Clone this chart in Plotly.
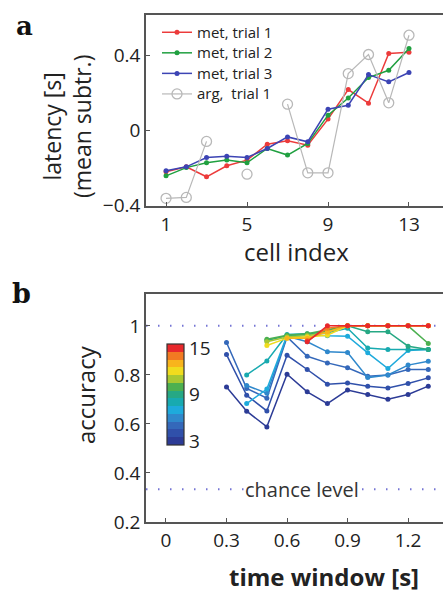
import plotly.graph_objects as go

# ---------------- data: panel a ----------------
cell_index = list(range(1, 14))
met_trial1 = [-0.222, -0.196, -0.249, -0.190, -0.160, -0.075, -0.057, -0.080, 0.059, 0.217, 0.144, 0.409, 0.416]
met_trial2 = [-0.244, -0.200, -0.174, -0.160, -0.174, -0.098, -0.133, -0.071, 0.080, 0.172, 0.281, 0.320, 0.436]
met_trial3 = [-0.217, -0.196, -0.146, -0.139, -0.146, -0.098, -0.036, -0.062, 0.112, 0.133, 0.297, 0.258, 0.308]
arg_trial1 = [-0.364, -0.359, -0.060, None, -0.235, None, 0.139, -0.228, -0.228, 0.302, 0.404, 0.146, 0.507]
series_a_names = ["met, trial 1", "met, trial 2", "met, trial 3", "arg,\u00a0\u00a0trial 1"]
xticks_a = [1, 5, 9, 13]
yticks_a = [-0.4, 0, 0.4]

# ---------------- data: panel b ----------------
time_window = [0.3, 0.4, 0.5, 0.6, 0.7, 0.8, 0.9, 1.0, 1.1, 1.2, 1.3]
n_cells = list(range(3, 16))
acc_n3 = [0.751, 0.652, 0.588, 0.803, 0.731, 0.683, 0.738, 0.720, 0.701, 0.720, 0.754]
acc_n4 = [0.883, 0.717, 0.653, 0.880, 0.822, 0.762, 0.767, 0.754, 0.747, 0.765, 0.788]
acc_n5 = [0.932, 0.745, 0.705, 0.955, 0.876, 0.849, 0.829, 0.795, 0.800, 0.822, 0.822]
acc_n6 = [None, 0.757, 0.725, 0.958, 0.935, 0.894, 0.891, 0.789, 0.800, 0.840, 0.856]
acc_n7 = [None, 0.683, 0.742, 0.962, 0.965, 0.960, 0.958, 0.890, 0.826, 0.900, 0.904]
acc_n8 = [None, 0.800, 0.857, 0.965, 0.968, 0.972, 0.990, 0.910, 0.904, 0.904, 0.904]
acc_n9 = [None, None, 0.940, 0.960, 0.965, 0.980, 1.000, 0.976, 0.976, 0.917, 0.904]
acc_n10 = [None, None, 0.945, 0.962, 0.968, 0.985, 1.000, 1.000, 1.000, 1.000, 0.928]
acc_n11 = [None, None, 0.935, 0.955, 0.960, 0.975, 1.000, 1.000, 1.000, 1.000, 1.000]
acc_n12 = [None, None, 0.920, 0.950, 0.955, 0.962, 1.000, 1.000, 1.000, 1.000, 1.000]
acc_n13 = [None, None, None, 0.950, 0.950, 0.975, 1.000, 1.000, 1.000, 1.000, 1.000]
acc_n14 = [None, None, None, None, 0.940, 0.990, 1.000, 1.000, 1.000, 1.000, 1.000]
acc_n15 = [None, None, None, None, 0.935, 1.000, 1.000, 1.000, 1.000, 1.000, 1.000]
accuracy_by_n = [acc_n3, acc_n4, acc_n5, acc_n6, acc_n7, acc_n8, acc_n9,
                 acc_n10, acc_n11, acc_n12, acc_n13, acc_n14, acc_n15]
chance_level = 1 / 3
perfect_level = 1.0
xticks_b = [0, 0.3, 0.6, 0.9, 1.2]
yticks_b = [0.2, 0.4, 0.6, 0.8, 1]
cbar_ticks = [3, 9, 15]

# ---------------- styles ----------------
level_colors = ["#2c3b96", "#3050aa", "#3468ba", "#2f88cc", "#1eaadc", "#18aab0", "#26a884",
                "#4cb050", "#a8c832", "#f0dc1e", "#f8b41c", "#f27a22", "#e8282c"]
a_colors = ["#ec3b3b", "#20a040", "#3c44b4", "#b8b8b8"]
FONT = "Open Sans"
TXT = "#222222"
AX = "#555555"

W, H = 443, 593
ML, MR, MT, MB = 146, 0, 15, 71
PW, PH = W - ML - MR, H - MT - MB


def px(x):
    return (x - ML) / PW


def py(y):
    return (H - MB - y) / PH


fig = go.Figure()

# panel a traces
for name, vals, col in zip(series_a_names[:3], [met_trial1, met_trial2, met_trial3], a_colors[:3]):
    fig.add_trace(go.Scatter(
        x=cell_index, y=vals, name='<span style="font-size:15px">' + name + '</span>',
        mode="lines+markers", line=dict(color=col, width=1.5),
        marker=dict(color=col, size=5), xaxis="x", yaxis="y", connectgaps=False))
fig.add_trace(go.Scatter(
    x=cell_index, y=arg_trial1, name='<span style="font-size:15px">' + series_a_names[3] + '</span>',
    mode="lines+markers", line=dict(color=a_colors[3], width=1.2),
    marker=dict(symbol="circle-open", color=a_colors[3], size=10, line=dict(width=1.3)),
    xaxis="x", yaxis="y", connectgaps=False))

# panel b traces
for n, vals, col in zip(n_cells, accuracy_by_n, level_colors):
    fig.add_trace(go.Scatter(
        x=time_window, y=vals, mode="lines+markers", showlegend=False,
        line=dict(color=col, width=1.5), marker=dict(color=col, size=5),
        xaxis="x2", yaxis="y2", name=f"{n} cells", connectgaps=False))

# colorbar (discrete levels 3..15)
nlev = len(level_colors)
cscale = []
for i, c in enumerate(level_colors):
    cscale.append([i / nlev, c])
    cscale.append([(i + 1) / nlev, c])
fig.add_trace(go.Scatter(
    x=[None] * len(n_cells), y=[None] * len(n_cells), mode="markers", showlegend=False,
    xaxis="x2", yaxis="y2", hoverinfo="skip",
    marker=dict(color=n_cells, colorscale=cscale, cmin=2.5, cmax=15.5, showscale=True,
                colorbar=dict(x=px(167), xanchor="left", xpad=0, y=py(394.5), yanchor="middle", ypad=0,
                              len=101, lenmode="pixels", thickness=17, thicknessmode="pixels",
                              outlinewidth=1.2, outlinecolor="#333333", ticks="",
                              tickvals=cbar_ticks, ticktext=[str(t) for t in cbar_ticks],
                              tickfont=dict(family=FONT, size=19, color=TXT)))))

axis_common = dict(showgrid=False, zeroline=False, showline=True, linecolor=AX, linewidth=1.5,
                   ticks="inside", ticklen=4, tickcolor=AX, tickwidth=1.2,
                   tickfont=dict(family=FONT, size=19, color=TXT), automargin=False)

fig.update_layout(
    width=W, height=H, margin=dict(l=ML, r=MR, t=MT, b=MB),
    paper_bgcolor="white", plot_bgcolor="white",
    xaxis=dict(domain=[0, 1], range=[0.01, 14.68], tickvals=xticks_a, anchor="y", mirror=True, **axis_common),
    yaxis=dict(domain=[py(206), 1], range=[-0.405, 0.615], tickvals=yticks_a,
               ticktext=["\u22120.4", "0", "0.4"], anchor="x", **axis_common),
    xaxis2=dict(domain=[0, 1], range=[-0.099, 1.373], tickvals=xticks_b,
                ticktext=["0", "0.3", "0.6", "0.9", "1.2"], anchor="y2", mirror=True, **axis_common),
    yaxis2=dict(domain=[0, py(294)], range=[0.2, 1.13], tickvals=yticks_b,
                ticktext=["0.2", "0.4", "0.6", "0.8", "1"], anchor="x2", **axis_common),
    showlegend=True,
    legend=dict(x=px(157), y=py(17), xanchor="left", yanchor="top", bgcolor="rgba(0,0,0,0)",
                font=dict(family=FONT, size=13.5, color=TXT), borderwidth=0),
)

# reference lines in panel b
for lvl in [perfect_level, chance_level]:
    fig.add_shape(type="line", xref="x2 domain", yref="y2", x0=0, x1=1, y0=lvl, y1=lvl,
                  line=dict(color="#7474d4", width=2, dash="1.5px,10.5px"), layer="below")

ann = []
ann.append(dict(text="chance level", xref="x2", yref="y2", x=0.674, y=chance_level,
                showarrow=False, bgcolor="white", font=dict(family=FONT, size=20, color="#333333"),
                xanchor="center", yanchor="middle", borderpad=0))
ann.append(dict(text="latency [s]<br>(mean subtr.)", xref="paper", yref="paper", x=px(67), y=py(127),
                textangle=-90, showarrow=False, font=dict(family=FONT, size=23, color=TXT),
                xanchor="center", yanchor="middle"))
ann.append(dict(text="cell index", xref="paper", yref="paper", x=px(296), y=py(251),
                showarrow=False, font=dict(family=FONT, size=24, color=TXT),
                xanchor="center", yanchor="middle"))
ann.append(dict(text="accuracy", xref="paper", yref="paper", x=px(85), y=py(395),
                textangle=-90, showarrow=False, font=dict(family=FONT, size=24, color=TXT),
                xanchor="center", yanchor="middle"))
ann.append(dict(text="<b>time window [s]</b>", xref="paper", yref="paper", x=px(324), y=py(576),
                showarrow=False, font=dict(family=FONT, size=24, color=TXT),
                xanchor="center", yanchor="middle"))
ann.append(dict(text="<b>a</b>", xref="paper", yref="paper", x=px(14), y=py(26),
                showarrow=False, font=dict(family="DejaVu Serif", size=26, color="#111111"),
                xanchor="left", yanchor="middle"))
ann.append(dict(text="<b>b</b>", xref="paper", yref="paper", x=px(10), y=py(293),
                showarrow=False, font=dict(family="DejaVu Serif", size=27, color="#111111"),
                xanchor="left", yanchor="middle"))
fig.update_layout(annotations=ann)

fig.write_html("out.html", config={"displayModeBar": False},
               post_script="document.body.style.margin='0';")
